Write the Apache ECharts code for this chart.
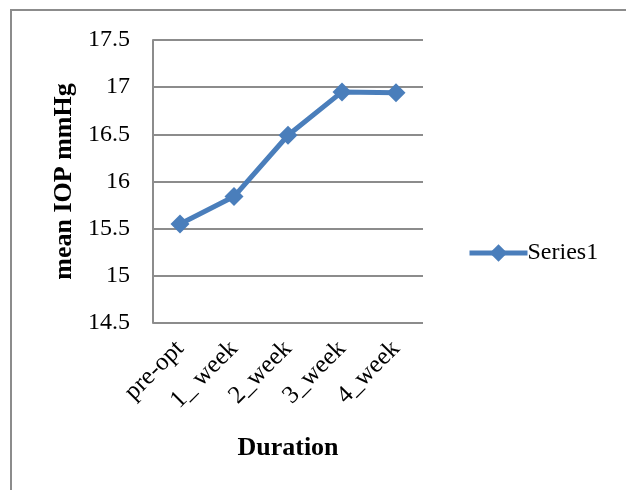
<!DOCTYPE html>
<html>
<head>
<meta charset="utf-8">
<script src="https://cdn.jsdelivr.net/npm/echarts@6/dist/echarts.min.js"></script>
<style>
html,body{margin:0;padding:0;background:#fff;}
#c{width:626px;height:490px;}
</style>
</head>
<body>
<div id="c"></div>
<script>
var categories = ['pre-opt', '1_ week', '2_week', '3_week', '4_week'];
var series1 = [15.55, 15.84, 16.49, 16.95, 16.94];
var seriesName = 'Series1';
var yTitle = 'mean IOP mmHg';
var xTitle = 'Duration';

var FONT = "'Liberation Serif', 'Times New Roman', serif";
var chart = echarts.init(document.getElementById('c'));
chart.setOption({
  animation: false,
  backgroundColor: '#fff',
  graphic: [{
    type: 'rect',
    shape: {x: 11, y: 10, width: 640, height: 500},
    style: {fill: 'none', stroke: '#8c8c8c', lineWidth: 2},
    silent: true
  }],
  grid: {left: 153, right: 203, top: 40, bottom: 167},
  legend: {
    left: 462, top: 236,
    itemWidth: 58, itemHeight: 22, itemGap: 2,
    lineStyle: {width: 5},
    textStyle: {fontFamily: FONT, fontSize: 24, color: '#000', padding: [0,0,0,-5]},
    data: [seriesName]
  },
  xAxis: {
    type: 'category',
    data: categories,
    boundaryGap: true,
    axisLine: {show: false},
    axisTick: {show: false},
    axisLabel: {rotate: 45, margin: 22, fontFamily: FONT, fontSize: 25, color: '#000', interval: 0},
    name: xTitle,
    nameLocation: 'middle',
    nameGap: 112,
    nameTextStyle: {fontFamily: FONT, fontSize: 26, fontWeight: 'bold', color: '#000'}
  },
  yAxis: {
    type: 'value',
    min: 14.5, max: 17.5, interval: 0.5,
    axisLine: {show: true, lineStyle: {color: '#8c8c8c', width: 2}},
    axisTick: {show: false},
    splitLine: {show: true, lineStyle: {color: '#8c8c8c', width: 2}},
    axisLabel: {margin: 23, fontFamily: FONT, fontSize: 24, color: '#000',
      formatter: function(v){ return String(Math.round(v*10)/10); }},
    name: yTitle,
    nameLocation: 'middle',
    nameGap: 76,
    nameTextStyle: {fontFamily: FONT, fontSize: 26, fontWeight: 'bold', color: '#000'}
  },
  series: [{
    name: seriesName,
    type: 'line',
    data: series1,
    symbol: 'diamond',
    symbolSize: 19,
    showAllSymbol: true,
    lineStyle: {color: '#4a7ebb', width: 5},
    itemStyle: {color: '#4a7ebb'}
  }]
});
</script>
</body>
</html>
